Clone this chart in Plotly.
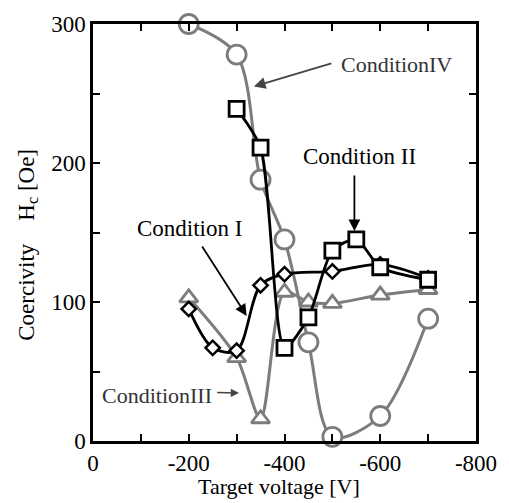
import plotly.graph_objects as go

# ---- data ----
x_I = [-200, -250, -300, -350, -400, -500, -600, -700]
y_I = [95, 67, 65, 112, 120, 122, 127, 117]

x_II = [-300, -350, -400, -450, -500, -550, -600, -700]
y_II = [239, 211, 67, 89, 137, 145, 125, 116]

x_III = [-200, -300, -350, -400, -450, -500, -600, -700]
y_III = [103, 60, 16, 107, 100, 99, 105, 109]

x_IV = [-200, -300, -350, -400, -450, -500, -600, -700]
y_IV = [300, 278, 188, 145, 71, 3, 18, 88]

x_tickvals = [0, -100, -200, -300, -400, -500, -600, -700, -800]
x_ticktext = ["0", "", "-200", "", "-400", "", "-600", "", "-800"]
y_tickvals = [0, 50, 100, 150, 200, 250, 300]
y_ticktext = ["0", "", "100", "", "200", "", "300"]

GRAY = "#7c7c7c"
FONT = "Liberation Serif, Times New Roman, serif"

fig = go.Figure()

fig.add_trace(go.Scatter(
    x=x_IV, y=y_IV, mode="lines+markers", cliponaxis=False,
    line=dict(color=GRAY, width=3, shape="spline", smoothing=0.9),
    marker=dict(symbol="circle", size=19, color="white", line=dict(color=GRAY, width=2.8)),
    name="Condition IV"))

fig.add_trace(go.Scatter(
    x=x_III, y=y_III, mode="lines+markers", cliponaxis=False,
    line=dict(color=GRAY, width=3, shape="spline", smoothing=0.8),
    marker=dict(symbol="triangle-up", size=16, color="white", line=dict(color=GRAY, width=2.8)),
    name="Condition III"))

fig.add_trace(go.Scatter(
    x=x_I, y=y_I, mode="lines+markers", cliponaxis=False,
    line=dict(color="black", width=2.8, shape="spline", smoothing=0.9),
    marker=dict(symbol="diamond", size=11, color="white", line=dict(color="black", width=2.5)),
    name="Condition I"))

fig.add_trace(go.Scatter(
    x=x_II, y=y_II, mode="lines+markers", cliponaxis=False,
    line=dict(color="black", width=2.8, shape="spline", smoothing=0.7),
    marker=dict(symbol="square", size=15, color="white", line=dict(color="black", width=2.8)),
    name="Condition II"))

def label(text, x, y, color="black", size=23):
    fig.add_annotation(x=x, y=y, xref="x", yref="y", text=text, showarrow=False,
                       font=dict(family=FONT, size=size, color=color))

def arrow(x0, y0, x1, y1, color="black", width=1.8, head=2, hsize=1.3):
    fig.add_annotation(x=x1, y=y1, ax=x0, ay=y0, xref="x", yref="y", axref="x", ayref="y",
                       text="", showarrow=True, arrowhead=head, arrowsize=hsize,
                       arrowwidth=width, arrowcolor=color, standoff=0, startstandoff=0)

label("ConditionIV", -634, 271, color="#333333", size=22)
arrow(-501, 272, -336, 255, color="#444444", width=1.8)

label("Condition II", -556, 205)
arrow(-546, 192, -546, 151)

label("Condition I", -201, 153)
arrow(-226, 141, -321, 90)

label("ConditionIII", -134, 33, color="#333333", size=22)
arrow(-256, 35, -305, 34.5, color="#444444", width=1.5, hsize=1.1)

# axis titles
fig.add_annotation(xref="paper", yref="paper", x=0.485, y=-0.108, text="Target voltage [V]",
                   showarrow=False, font=dict(family=FONT, size=22, color="black"),
                   xanchor="center", yanchor="middle")
fig.add_annotation(xref="paper", yref="paper", x=-0.172, y=0.471,
                   text="Coercivity\u00a0\u00a0\u00a0\u00a0H<sub>c</sub> [Oe]", textangle=-90,
                   showarrow=False, font=dict(family=FONT, size=23, color="black"),
                   xanchor="center", yanchor="middle")

axis_common = dict(showgrid=False, zeroline=False, showline=True, linecolor="black",
                   linewidth=2.5, mirror="ticks", ticks="inside", ticklen=7, tickwidth=2,
                   tickcolor="black", tickfont=dict(family=FONT, size=23, color="black"))

fig.update_xaxes(range=[0, -800], tickmode="array", tickvals=x_tickvals, ticktext=x_ticktext,
                 ticklabelstandoff=0, **axis_common)
fig.update_yaxes(range=[0, 300], tickmode="array", tickvals=y_tickvals, ticktext=y_ticktext,
                 ticklabelstandoff=0, **axis_common)

fig.update_layout(width=509, height=503, showlegend=False,
                  margin=dict(l=92.5, r=24.5, t=22.7, b=62),
                  plot_bgcolor="white", paper_bgcolor="white",
                  font=dict(family=FONT))

fig.write_html("out.html")
